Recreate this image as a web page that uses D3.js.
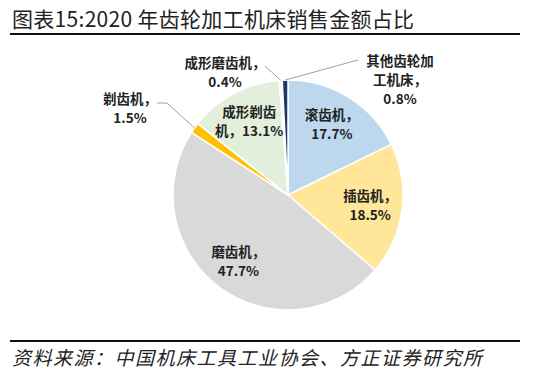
<!DOCTYPE html>
<html><head><meta charset="utf-8">
<script src="https://cdn.jsdelivr.net/npm/d3@7"></script>
<style>body{margin:0;background:#fff}svg{display:block}</style>
</head><body>
<svg id="c" width="552" height="379"></svg>
<script>
const categories = ["滚齿机", "插齿机", "磨齿机", "剃齿机", "成形剃齿机", "成形磨齿机", "其他齿轮加工机床"];
const values = [17.7, 18.5, 47.7, 1.5, 13.1, 0.4, 0.8];
const colors = ["#bdd7ee", "#ffe699", "#d9d9d9", "#ffc000", "#e2efda", "#f4f4f4", "#1f3864"];
const labelLines = [
  ["滚齿机，", "17.7%"],
  ["插齿机，", "18.5%"],
  ["磨齿机，", "47.7%"],
  ["剃齿机，", "1.5%"],
  ["成形剃齿", "机，13.1%"],
  ["成形磨齿机，", "0.4%"],
  ["其他齿轮加", "工机床，", "0.8%"]
];
const titleText = "图表15:2020 年齿轮加工机床销售金额占比";
const sourceText = "资料来源：中国机床工具工业协会、方正证券研究所";

const svg = d3.select("#c");
const font = "'Noto Sans CJK SC', 'Noto Sans', sans-serif";

// title & rules
svg.append("text").attr("x", 12).attr("y", 27).attr("font-family", font)
  .attr("font-size", 21).attr("letter-spacing", 0.3).attr("fill", "#222").text(titleText);
svg.append("line").attr("x1", 10).attr("x2", 520).attr("y1", 34).attr("y2", 34)
  .attr("stroke", "#111").attr("stroke-width", 2);
svg.append("line").attr("x1", 10).attr("x2", 520).attr("y1", 341).attr("y2", 341)
  .attr("stroke", "#111").attr("stroke-width", 2);
svg.append("text").attr("x", 12).attr("y", 365).attr("font-family", font)
  .attr("font-size", 19).attr("letter-spacing", 1.5).attr("font-style", "italic")
  .attr("fill", "#222").text(sourceText);

const cx = 288, cy = 195, R = 115;
const g = svg.append("g").attr("transform", `translate(${cx},${cy})`);
const pie = d3.pie().sort(null).value(d => d)(values);
const arc = d3.arc().innerRadius(0).outerRadius(R);
g.selectAll("path.s").data(pie).join("path").attr("class", "s")
  .attr("d", arc).attr("fill", (d, i) => colors[i])
  .attr("stroke", "#fff").attr("stroke-width", 1.5);

const labelArc = d3.arc().innerRadius(R * 0.72).outerRadius(R * 0.72);
const edge = d => { const a = (d.startAngle + d.endAngle) / 2; return [R * Math.sin(a), -R * Math.cos(a)]; };

function drawLabel(lines, x, y, lh) {
  const t = g.append("text").attr("font-family", font).attr("font-size", 13.5)
    .attr("font-weight", "bold").attr("fill", "#222").attr("text-anchor", "middle");
  const n = lines.length;
  lines.forEach((s, k) => {
    t.append("tspan").attr("x", x).attr("y", y + (k - (n - 1) / 2) * lh + 5).text(s);
  });
}

// inside labels
[0, 1, 2, 4].forEach(i => {
  const [x, y] = labelArc.centroid(pie[i]);
  drawLabel(labelLines[i], x, y, 19);
});

// outside labels with leader lines
const outside = {
  3: { lx: -158, ly: -87, path: e => [[-131, -92], [-121, -92], e] },
  5: { lx: -63, ly: -123, path: e => [[-23, -129], e] },
  6: { lx: 112, ly: -115, path: e => [[70, -135], e] }
};
Object.entries(outside).forEach(([k, o]) => {
  const i = +k;
  const e = edge(pie[i]);
  g.append("path").attr("d", d3.line()(o.path(e))).attr("fill", "none")
    .attr("stroke", "#a0a0a0").attr("stroke-width", 1);
  drawLabel(labelLines[i], o.lx, o.ly, 19);
});
</script>
</body></html>
